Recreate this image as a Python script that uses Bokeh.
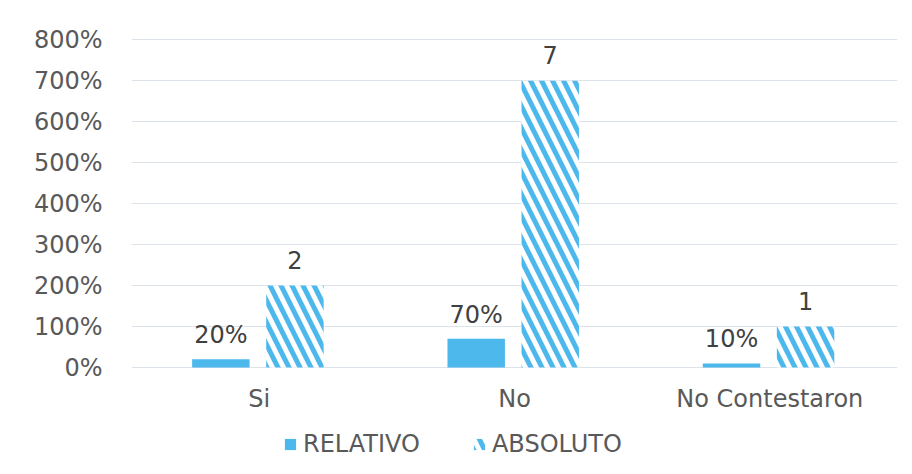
from bokeh.plotting import figure
from bokeh.models import (ColumnDataSource, FactorRange, Range1d, FixedTicker,
                          NumeralTickFormatter, LabelSet, Legend, LegendItem)
from bokeh.core.properties import value
from bokeh.transform import dodge
from bokeh.embed import file_html
from bokeh.resources import INLINE

categories = ["Si", "No", "No Contestaron"]
relativo = [0.2, 0.7, 0.1]
absoluto = [2, 7, 1]
relativo_labels = ["20%", "70%", "10%"]
absoluto_labels = ["2", "7", "1"]
y_ticks = [0, 1, 2, 3, 4, 5, 6, 7, 8]

FONT = "DejaVu Sans"
BLUE = "#4DB8EC"
TXT = "#595959"
FS = "24px"

src = ColumnDataSource(dict(cat=categories, rel=relativo, abs=absoluto,
                            rel_lab=relativo_labels, abs_lab=absoluto_labels,
                            zero=[0, 0, 0]))

p = figure(width=904, height=474, x_range=FactorRange(*categories),
           y_range=Range1d(-2.61, 8.03), output_backend="svg", toolbar_location=None,
           min_border_left=131, min_border_right=7, min_border_top=38,
           min_border_bottom=0)
p.outline_line_color = None
p.background_fill_color = "white"
p.xaxis.visible = False

r1 = p.vbar(x=dodge("cat", -0.15, range=p.x_range), top="rel", width=0.225,
            source=src, fill_color=BLUE, line_color=None)
r2 = p.vbar(x=dodge("cat", 0.14, range=p.x_range), top="abs", width=0.225,
            source=src, fill_color="white", line_color=None,
            hatch_pattern="\\", hatch_color=BLUE, hatch_scale=22, hatch_weight=5)

p.add_layout(LabelSet(x=dodge("cat", -0.15, range=p.x_range), y="rel", text="rel_lab",
                      source=src, text_align="center", text_baseline="bottom",
                      y_offset=10, text_font=value(FONT), text_font_size=FS,
                      text_color="#404040"))
p.add_layout(LabelSet(x=dodge("cat", 0.14, range=p.x_range), y="abs", text="abs_lab",
                      source=src, text_align="center", text_baseline="bottom",
                      y_offset=17, text_font=value(FONT), text_font_size=FS,
                      text_color="#404040"))
# category labels under the bars
p.add_layout(LabelSet(x="cat", y="zero", text="cat", source=src,
                      text_align="center", text_baseline="middle", y_offset=-31,
                      text_font=value(FONT), text_font_size=FS, text_color=TXT))

p.yaxis.ticker = FixedTicker(ticks=y_ticks)
p.yaxis.formatter = NumeralTickFormatter(format="0%")
p.yaxis.axis_line_color = None
p.yaxis.major_tick_line_color = None
p.yaxis.minor_tick_line_color = None
p.yaxis.major_label_text_font = FONT
p.yaxis.major_label_text_font_size = FS
p.yaxis.major_label_text_color = TXT
p.yaxis.major_label_standoff = 23

p.xgrid.grid_line_color = None
p.ygrid.grid_line_color = "#DDE3EA"
p.ygrid.ticker = FixedTicker(ticks=y_ticks)

legend = Legend(items=[LegendItem(label="RELATIVO", renderers=[r1]),
                       LegendItem(label="ABSOLUTO", renderers=[r2])],
                orientation="horizontal", location=(152, 16),
                label_text_font=FONT, label_text_font_size=FS,
                label_text_color=TXT, glyph_width=14, glyph_height=14,
                label_height=24, label_standoff=6, spacing=52, padding=0,
                margin=0, border_line_color=None, background_fill_alpha=0)
p.add_layout(legend, "center")

open("out.html", "w").write(file_html(p, INLINE))
